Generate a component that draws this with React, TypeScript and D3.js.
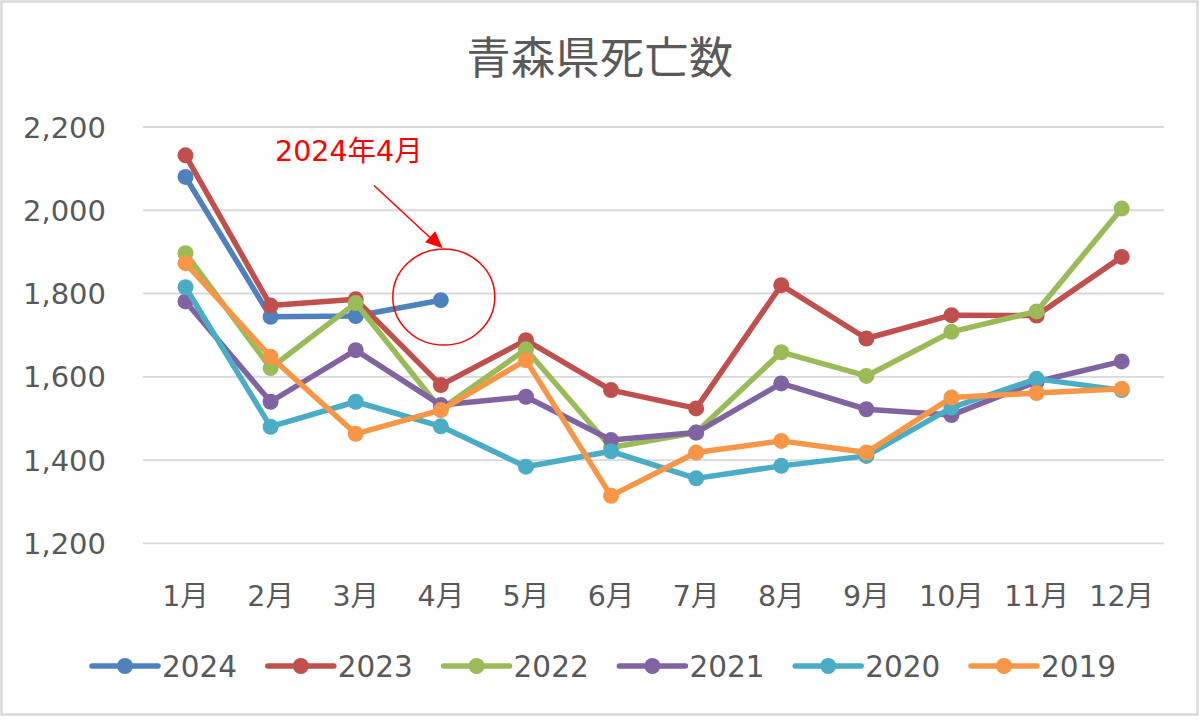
import React, { useEffect } from "react";
import * as d3 from "d3";

const months = ["1月", "2月", "3月", "4月", "5月", "6月", "7月", "8月", "9月", "10月", "11月", "12月"];
const yTicks = [1200, 1400, 1600, 1800, 2000, 2200];

const v2024 = [2080, 1744, 1746, 1784];
const v2023 = [2132, 1771, 1786, 1580, 1688, 1568, 1524, 1820, 1692, 1748, 1747, 1888];
const v2022 = [1897, 1621, 1777, 1522, 1666, 1430, 1466, 1659, 1602, 1708, 1757, 2004];
const v2021 = [1781, 1540, 1664, 1532, 1552, 1448, 1466, 1584, 1522, 1508, 1588, 1637];
const v2020 = [1815, 1480, 1540, 1481, 1384, 1421, 1356, 1386, 1410, 1526, 1595, 1568];
const v2019 = [1873, 1648, 1463, 1520, 1640, 1314, 1418, 1446, 1418, 1550, 1561, 1571];

const seriesNames = ["2024", "2023", "2022", "2021", "2020", "2019"];
const seriesValues = [v2024, v2023, v2022, v2021, v2020, v2019];
const colors = ["#4F81BD", "#C0504D", "#9BBB59", "#8064A2", "#4BACC6", "#F79646"];

const FONT = "'DejaVu Sans', 'Noto Sans CJK JP', sans-serif";
const CJK = "'Noto Sans CJK JP', sans-serif";
const TEXT = "#595959";

export default function App() {
  useEffect(() => {
    document.body.style.margin = "0";
  }, []);

  const x = d3.scalePoint<string>().domain(months).range([185.5, 1121.7]).padding(0);
  const y = d3.scaleLinear().domain([1200, 2200]).range([543.3, 127]);
  const line = d3
    .line<number>()
    .x((_, i) => x(months[i]) as number)
    .y((d) => y(d));

  const legendX0 = 92;
  const legendStep = 175.8;

  const arrowHead = (() => {
    const tx = 442.7, ty = 248.3, ang = Math.atan2(248.3 - 185.5, 442.7 - 374);
    const L = 17, W = 7.5;
    const bx = tx - L * Math.cos(ang), by = ty - L * Math.sin(ang);
    const px = -Math.sin(ang) * W, py = Math.cos(ang) * W;
    return `M${tx},${ty}L${bx + px},${by + py}L${bx - px},${by - py}Z`;
  })();

  return (
    <svg width={1200} height={721} style={{ display: "block", background: "#fff" }} fontFamily={FONT}>
      <rect x={1.5} y={1.5} width={1196} height={713} fill="#fff" stroke="#d9d9d9" strokeWidth={2.5} />
      <text x={600} y={74} textAnchor="middle" fontSize={44} fill={TEXT} fontFamily={CJK} letterSpacing={0.5}>
        青森県死亡数
      </text>
      {yTicks.map((t) => (
        <g key={t}>
          <line x1={143} x2={1164} y1={y(t)} y2={y(t)} stroke="#d9d9d9" strokeWidth={1.8} />
          <text x={106} y={y(t) + 10.5} textAnchor="end" fontSize={29} fill={TEXT}>
            {d3.format(",")(t)}
          </text>
        </g>
      ))}
      {months.map((m) => (
        <text key={m} x={x(m)} y={606} textAnchor="middle" fontSize={28.5} fill={TEXT}>
          {m}
        </text>
      ))}
      {seriesValues.map((vals, si) => (
        <g key={seriesNames[si]}>
          <path d={line(vals) || ""} fill="none" stroke={colors[si]} strokeWidth={5.5} strokeLinejoin="round" />
          {vals.map((v, i) => (
            <circle key={i} cx={x(months[i])} cy={y(v)} r={8} fill={colors[si]} />
          ))}
        </g>
      ))}
      {/* annotation */}
      <text x={275} y={161} fontSize={28.5} fill="#FF0000">
        2024年4月
      </text>
      <line x1={374} y1={185.5} x2={430} y2={237.5} stroke="#FF0000" strokeWidth={1.5} />
      <path d={arrowHead} fill="#FF0000" />
      <ellipse cx={443.8} cy={297} rx={51} ry={48} fill="none" stroke="#FF0000" strokeWidth={1.5} />
      {/* legend */}
      {seriesNames.map((n, i) => {
        const lx = legendX0 + i * legendStep;
        return (
          <g key={n}>
            <line x1={lx} x2={lx + 66} y1={666} y2={666} stroke={colors[i]} strokeWidth={5.5} strokeLinecap="round" />
            <circle cx={lx + 33} cy={666} r={8} fill={colors[i]} />
            <text x={lx + 70} y={677} fontSize={29.5} fill={TEXT}>
              {n}
            </text>
          </g>
        );
      })}
    </svg>
  );
}
